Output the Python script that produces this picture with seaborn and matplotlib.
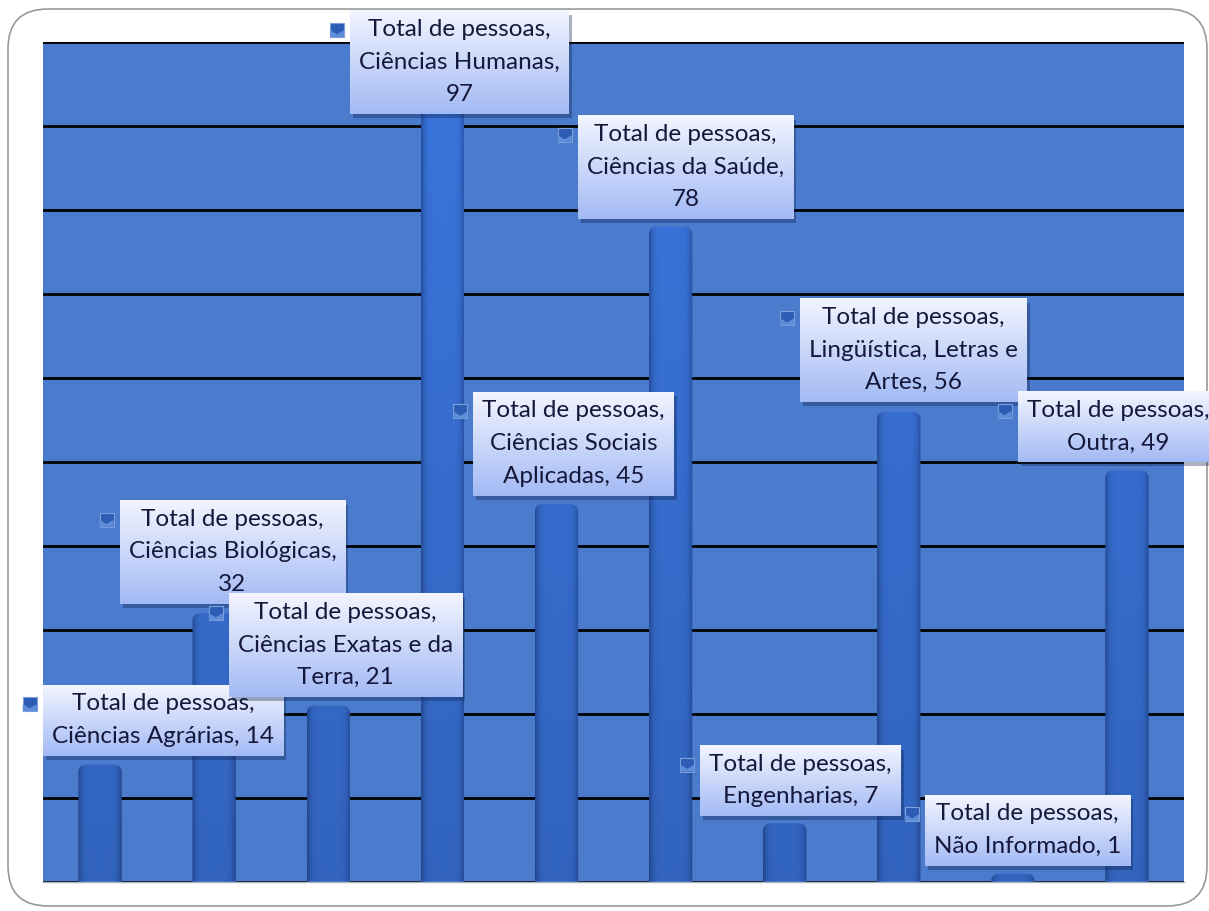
import textwrap
import numpy as np
import matplotlib.pyplot as plt
import seaborn as sns
from matplotlib.patches import FancyBboxPatch, Rectangle, Polygon

# dados do gráfico
serie = "Total de pessoas"
categorias = ["Ciências Agrárias", "Ciências Biológicas", "Ciências Exatas e da Terra",
              "Ciências Humanas", "Ciências Sociais Aplicadas", "Ciências da Saúde",
              "Engenharias", "Lingüística, Letras e Artes", "Não Informado", "Outra"]
valores = [14, 32, 21, 97, 45, 78, 7, 56, 1, 49]

# posição dos rótulos em relação ao topo de cada barra
rot_dx = [0.55, 0.16, 0.15, 0.15, 0.15, 0.13, 0.14, 0.13, 0.13, -0.08]
rot_dy = [5.3, 7.3, 7.2, 0.6, 7.2, 7.1, 5.1, 7.3, 5.2, 5.2]
rot_larg = [22, 20, 20, 18, 16, 18, 22, 21, 22, 22]

sns.set_theme(style="white")
plt.rcParams["font.family"] = ["Lato", "DejaVu Sans"]

fig = plt.figure(figsize=(12.09, 9.11), dpi=100)
ax = fig.add_axes([43 / 1209, 29 / 911, 1141 / 1209, 840 / 911])
ax.set_facecolor("#4a7bcc")

sns.barplot(x=categorias, y=valores, order=categorias, ax=ax, width=0.38, color="#3570d6")

ax.set_yticks(range(0, 101, 10))
ax.grid(axis="y", color="black", linewidth=2.0)
ax.set_axisbelow(True)
ax.tick_params(length=0, labelbottom=False, labelleft=False)
ax.set_xlabel("")
ax.set_ylabel("")
for lado in ["left", "right", "top"]:
    ax.spines[lado].set_visible(False)
ax.spines["bottom"].set_color("#aab4c6")
ax.spines["bottom"].set_linewidth(1.0)

# barras com aspecto de cilindro (gradiente + topo arredondado)
t = np.linspace(0, 1, 64)
perfil = 1 - np.abs(2 * t - 1) ** 6
borda = np.array([0.15, 0.31, 0.63])
meio = np.array([0.23, 0.46, 0.87])
fator = np.linspace(1.0, 0.86, 100)[:, None, None]
grad_barra = np.clip((borda + (meio - borda) * perfil[:, None])[None, :, :] * fator, 0, 1)

for barra in list(ax.patches):
    x0, w, alt = barra.get_x(), barra.get_width(), barra.get_height()
    barra.set_visible(False)
    forma = FancyBboxPatch((x0, -5), w, alt + 5, boxstyle="round,pad=0,rounding_size=0.07",
                           mutation_aspect=13.6, facecolor="none", edgecolor="none")
    ax.add_patch(forma)
    im = ax.imshow(grad_barra, extent=[x0, x0 + w, 0, 100], aspect="auto", zorder=2,
                   interpolation="bilinear")
    im.set_clip_path(forma)

ax.set_xlim(-0.5, 9.5)
ax.set_ylim(0, 100)

# rótulos de dados com caixa em degradê
grad_caixa = np.linspace([0.95, 0.96, 1.0], [0.64, 0.73, 0.96], 60)[:, None, :]

fig.canvas.draw()
rend = fig.canvas.get_renderer()
inv = ax.transData.inverted()


def para_dados(px0, py0, px1, py1):
    (a, b), (c, d) = inv.transform([(px0, py0), (px1, py1)])
    return a, b, c, d


for i, (cat, val) in enumerate(zip(categorias, valores)):
    texto = serie + ",\n" + textwrap.fill(f"{cat}, {val}", rot_larg[i])
    z = 10 + 4 * i
    txt = ax.text(i + rot_dx[i], val + rot_dy[i], texto, ha="center", va="center",
                  fontsize=17.5, color="#15183a", linespacing=1.68, zorder=z + 3, clip_on=False)
    bb = txt.get_window_extent(rend)
    px0, py0, px1, py1 = bb.x0 - 9, bb.y0 - 9, bb.x1 + 9, bb.y1 + 8

    # sombra
    a, b, c, d = para_dados(px0 + 3, py0 - 4, px1 + 3, py1 - 4)
    ax.add_patch(Rectangle((a, b), c - a, d - b, facecolor="#10204a", alpha=0.35,
                           edgecolor="none", zorder=z, clip_on=False))
    # caixa
    a, b, c, d = para_dados(px0, py0, px1, py1)
    im = ax.imshow(grad_caixa, extent=[a, c, b, d], aspect="auto", zorder=z + 1,
                   interpolation="bilinear")
    im.set_clip_on(False)
    # chave da legenda
    a, b, c, d = para_dados(px0 - 20, py1 - 26, px0 - 6, py1 - 12)
    ax.add_patch(Rectangle((a, b), c - a, d - b, facecolor="#2c5cb4", edgecolor="#7d9fdc",
                           linewidth=0.8, zorder=z + 2, clip_on=False))
    a2, b2, c2, d2 = para_dados(px0 - 20, py1 - 26, px0 - 6, py1 - 19)
    ax.add_patch(Polygon([(a2, b2), (c2, b2), (c2, d2), ((a2 + c2) / 2, b2 + (d2 - b2) * 0.4), (a2, d2)],
                         closed=True, facecolor="#5e8ed8", edgecolor="none",
                         zorder=z + 2.5, clip_on=False))

ax.set_xlim(-0.5, 9.5)
ax.set_ylim(0, 100)

# moldura arredondada externa
fig.patches.append(FancyBboxPatch((8 / 1209, 5 / 911), 1199 / 1209, 897 / 911,
                                  boxstyle="round,pad=0,rounding_size=0.033",
                                  mutation_aspect=1209 / 911, transform=fig.transFigure,
                                  facecolor="none", edgecolor="#9a9a9a", linewidth=1.2,
                                  zorder=-1))

fig.savefig("out.png", dpi=100)
